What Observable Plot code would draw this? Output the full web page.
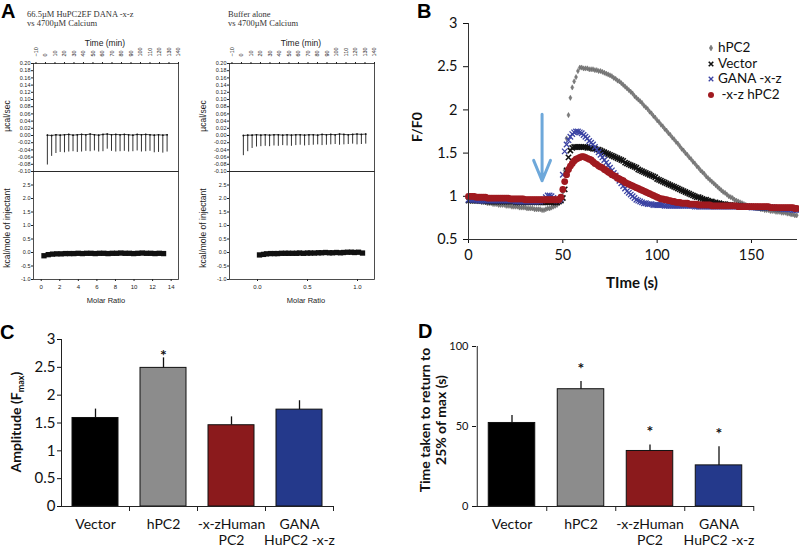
<!DOCTYPE html>
<html><head><meta charset="utf-8">
<script src="https://cdn.jsdelivr.net/npm/d3@7"></script>
<script src="https://cdn.jsdelivr.net/npm/@observablehq/plot@0.6"></script>
<style>
html,body{margin:0;padding:0;background:#fff;}
#fig{position:relative;width:799px;height:547px;overflow:hidden;background:#fff;}
#fig svg{position:absolute;}
.t{position:absolute;white-space:pre;line-height:1;color:#1a1a1a;}
</style></head><body><div id="fig"></div>
<script>
// ---------------- Panel A (ITC) data ----------------
const itcTimeTicks = [-10,0,10,20,30,40,50,60,70,80,90,100,110,120,130,140];
const itcRateTicks = [-0.10,-0.08,-0.06,-0.04,-0.02,0.00,0.02,0.04,0.06,0.08,0.10,0.12,0.14,0.16,0.18,0.20];
const itcHeatTicks = [-1.0,-0.5,0.0,0.5,1.0,1.5,2.0,2.5];
const leftRatioTicks = [0,2,4,6,8,10,12,14];
const rightRatioTicks = [0.0,0.5,1.0];

const leftInjTime = [2.0,6.5,11.0,15.5,20.0,24.5,29.0,33.5,38.0,42.5,47.0,51.5,56.0,60.5,65.0,69.5,74.0,78.5,83.0,87.5,92.0,96.5,101.0,105.5,110.0,114.5,119.0,123.5,128.0];
const leftInjPeak = [-0.082,-0.058,-0.050,-0.047,-0.048,-0.046,-0.045,-0.047,-0.046,-0.044,-0.045,-0.043,-0.046,-0.045,-0.038,-0.044,-0.046,-0.045,-0.044,-0.046,-0.045,-0.043,-0.046,-0.045,-0.044,-0.048,-0.047,-0.049,-0.046];
const leftInjBase = [0.001,0.000,0.002,0.001,0.002,0.003,0.001,0.002,0.003,0.002,0.004,0.002,0.001,0.003,0.004,0.002,0.003,0.002,0.003,0.002,0.001,0.003,0.002,0.003,0.002,0.001,0.002,0.001,0.002];
const leftRatio = [0.30,0.76,1.22,1.68,2.14,2.60,3.06,3.52,3.98,4.44,4.90,5.36,5.82,6.28,6.74,7.20,7.66,8.12,8.58,9.04,9.50,9.96,10.42,10.88,11.34,11.80,12.26,12.72,13.18];
const leftHeat = [-0.12,-0.08,-0.06,-0.05,-0.05,-0.04,-0.04,-0.04,-0.03,-0.04,-0.03,-0.03,-0.04,-0.03,-0.03,-0.04,-0.03,-0.03,-0.02,-0.03,-0.03,-0.04,-0.03,-0.02,-0.03,-0.03,-0.04,-0.03,-0.04];

const rightInjTime = [2.0,6.6,11.2,15.8,20.4,25.0,29.6,34.2,38.8,43.4,48.0,52.6,57.2,61.8,66.4,71.0,75.6,80.2,84.8,89.4,94.0,98.6,103.2,107.8,112.4,117.0,121.6,126.2,130.8];
const rightInjPeak = [-0.056,-0.045,-0.036,-0.032,-0.031,-0.030,-0.031,-0.029,-0.030,-0.028,-0.029,-0.030,-0.028,-0.027,-0.029,-0.028,-0.027,-0.026,-0.028,-0.027,-0.026,-0.025,-0.027,-0.026,-0.025,-0.024,-0.026,-0.025,-0.024];
const rightInjBase = [0.000,0.001,0.001,0.002,0.001,0.002,0.001,0.002,0.002,0.001,0.002,0.001,0.002,0.002,0.001,0.002,0.002,0.001,0.003,0.002,0.003,0.002,0.004,0.003,0.002,0.003,0.004,0.003,0.004];
const rightRatio = [0.02,0.06,0.09,0.13,0.17,0.20,0.24,0.28,0.31,0.35,0.39,0.42,0.46,0.50,0.53,0.57,0.61,0.64,0.68,0.72,0.75,0.79,0.83,0.86,0.90,0.94,0.97,1.01,1.05];
const rightHeat = [-0.09,-0.07,-0.05,-0.04,-0.04,-0.04,-0.03,-0.03,-0.03,-0.03,-0.03,-0.02,-0.03,-0.02,-0.02,-0.02,-0.01,-0.01,0.00,-0.01,-0.01,0.00,-0.01,0.00,0.01,0.01,0.00,0.01,-0.02];

// ---------------- Panel B data (F/F0, one sample per second) ----------------
const bXTicks = [0,50,100,150];
const bYTicks = [0.5,1,1.5,2,2.5,3];
const bHPC2 = [0.97,0.96,0.96,0.95,0.95,0.94,0.94,0.93,0.93,0.93,
 0.92,0.92,0.92,0.91,0.91,0.91,0.90,0.90,0.90,0.90,
 0.89,0.89,0.89,0.88,0.88,0.88,0.88,0.87,0.87,0.87,
 0.87,0.86,0.86,0.86,0.86,0.85,0.85,0.85,0.85,0.84,
 0.84,0.85,0.86,0.86,0.87,0.88,0.89,0.90,0.92,0.96,
 1.05,1.30,1.67,1.94,2.14,2.26,2.33,2.38,2.45,2.49,
 2.49,2.48,2.48,2.48,2.47,2.47,2.47,2.46,2.46,2.45,
 2.45,2.44,2.43,2.42,2.41,2.40,2.39,2.37,2.36,2.34,
 2.33,2.31,2.29,2.27,2.25,2.23,2.21,2.19,2.16,2.14,
 2.12,2.10,2.08,2.05,2.03,2.01,1.98,1.96,1.93,1.91,
 1.88,1.86,1.83,1.81,1.78,1.76,1.73,1.71,1.68,1.66,
 1.63,1.61,1.58,1.55,1.53,1.50,1.48,1.45,1.43,1.40,
 1.38,1.35,1.33,1.30,1.28,1.26,1.23,1.21,1.19,1.17,
 1.15,1.13,1.11,1.09,1.07,1.05,1.04,1.02,1.00,0.99,
 0.98,0.96,0.95,0.94,0.93,0.92,0.91,0.90,0.89,0.89,
 0.88,0.87,0.87,0.86,0.86,0.85,0.85,0.84,0.84,0.84,
 0.83,0.83,0.83,0.82,0.82,0.82,0.81,0.81,0.81,0.80,
 0.80,0.79,0.79,0.78,0.78];
const bVector = [0.95,0.95,0.95,0.95,0.95,0.95,0.95,0.95,0.95,0.95,
 0.94,0.94,0.94,0.94,0.94,0.94,0.94,0.94,0.94,0.94,
 0.94,0.94,0.94,0.94,0.94,0.93,0.93,0.93,0.93,0.93,
 0.93,0.93,0.93,0.93,0.93,0.93,0.93,0.93,0.93,0.93,
 0.93,0.93,0.93,0.93,0.93,0.93,0.93,0.93,0.94,0.95,
 0.98,1.08,1.30,1.45,1.53,1.56,1.57,1.57,1.57,1.57,
 1.57,1.57,1.57,1.56,1.56,1.56,1.55,1.55,1.54,1.54,
 1.53,1.52,1.51,1.50,1.49,1.48,1.47,1.46,1.45,1.44,
 1.43,1.42,1.41,1.39,1.38,1.37,1.36,1.35,1.34,1.33,
 1.31,1.30,1.29,1.28,1.27,1.26,1.25,1.24,1.23,1.22,
 1.20,1.19,1.18,1.17,1.16,1.15,1.14,1.13,1.12,1.11,
 1.10,1.09,1.08,1.07,1.06,1.05,1.04,1.03,1.02,1.01,
 1.00,0.99,0.99,0.98,0.97,0.96,0.96,0.95,0.94,0.94,
 0.93,0.93,0.92,0.92,0.91,0.91,0.91,0.90,0.90,0.90,
 0.89,0.89,0.89,0.89,0.89,0.88,0.88,0.88,0.88,0.88,
 0.88,0.88,0.88,0.87,0.87,0.87,0.87,0.87,0.87,0.87,
 0.87,0.87,0.87,0.86,0.86,0.86,0.86,0.86,0.86,0.86,
 0.86,0.86,0.86,0.86,0.85];
const bGANA = [0.96,0.96,0.96,0.96,0.96,0.95,0.95,0.95,0.95,0.95,
 0.95,0.95,0.95,0.95,0.95,0.95,0.95,0.95,0.95,0.95,
 0.95,0.95,0.95,0.95,0.95,0.94,0.94,0.94,0.94,0.94,
 0.94,0.94,0.94,0.94,0.94,0.94,0.94,0.94,0.94,0.95,
 0.96,0.99,1.01,1.01,1.00,0.98,0.96,0.95,0.95,0.97,
 1.25,1.52,1.60,1.65,1.69,1.72,1.74,1.75,1.75,1.74,
 1.73,1.71,1.69,1.67,1.64,1.62,1.60,1.57,1.54,1.51,
 1.48,1.45,1.42,1.39,1.36,1.33,1.30,1.27,1.24,1.21,
 1.18,1.15,1.12,1.09,1.06,1.04,1.02,1.00,0.98,0.96,
 0.95,0.94,0.93,0.92,0.92,0.91,0.91,0.91,0.90,0.90,
 0.90,0.90,0.90,0.90,0.89,0.89,0.89,0.89,0.89,0.89,
 0.89,0.89,0.89,0.89,0.89,0.89,0.89,0.89,0.89,0.89,
 0.88,0.88,0.88,0.88,0.88,0.88,0.88,0.88,0.88,0.88,
 0.88,0.88,0.88,0.88,0.88,0.88,0.88,0.88,0.88,0.88,
 0.88,0.88,0.88,0.88,0.88,0.88,0.88,0.88,0.88,0.88,
 0.87,0.87,0.87,0.87,0.87,0.87,0.87,0.87,0.87,0.87,
 0.87,0.87,0.86,0.86,0.86,0.86,0.86,0.85,0.85,0.85,
 0.85,0.85,0.84,0.84,0.84];
const bXZ = [1.00,1.00,1.00,1.00,0.99,0.99,0.99,0.99,0.99,0.99,
 0.98,0.98,0.98,0.98,0.98,0.98,0.98,0.98,0.98,0.98,
 0.98,0.98,0.97,0.97,0.97,0.97,0.97,0.97,0.97,0.97,
 0.96,0.96,0.96,0.96,0.96,0.96,0.96,0.96,0.96,0.96,
 0.96,0.96,0.96,0.96,0.96,0.96,0.96,0.96,0.96,0.99,
 1.08,1.17,1.25,1.31,1.35,1.38,1.41,1.43,1.44,1.45,
 1.46,1.46,1.45,1.44,1.43,1.42,1.40,1.38,1.37,1.35,
 1.34,1.33,1.31,1.30,1.28,1.27,1.25,1.24,1.23,1.21,
 1.20,1.19,1.18,1.16,1.15,1.14,1.13,1.12,1.11,1.10,
 1.09,1.08,1.07,1.06,1.05,1.04,1.03,1.02,1.01,1.00,
 0.99,0.98,0.97,0.97,0.96,0.96,0.95,0.95,0.94,0.94,
 0.93,0.93,0.93,0.92,0.92,0.92,0.92,0.91,0.91,0.91,
 0.91,0.91,0.90,0.90,0.90,0.90,0.90,0.90,0.90,0.89,
 0.89,0.89,0.89,0.89,0.89,0.89,0.89,0.89,0.89,0.89,
 0.89,0.89,0.89,0.88,0.88,0.88,0.88,0.88,0.88,0.88,
 0.88,0.88,0.88,0.88,0.88,0.88,0.88,0.88,0.88,0.88,
 0.87,0.87,0.87,0.87,0.87,0.87,0.87,0.87,0.87,0.87,
 0.87,0.87,0.87,0.86,0.86];
const bArrowTime = [39];
const bArrowFrom = [1.95];
const bArrowTo = [1.18];
const bSeriesNames = ["hPC2","Vector","GANA -x-z"," -x-z hPC2"];

// ---------------- Panels C & D data ----------------
const groups = ["Vector","hPC2","-x-zHuman PC2","GANA HuPC2 -x-z"];
const groupLabels = ["Vector","hPC2","-x-zHuman\nPC2","GANA\nHuPC2 -x-z"];
const barColors = ["#000000","#8c8c8c","#8b1a1c","#24398b"];
const ampMean = [1.59,2.49,1.46,1.74];
const ampErr = [0.16,0.18,0.15,0.16];
const ampSig = [false,true,false,false];
const ampTicks = [0,0.5,1,1.5,2,2.5,3];
const recMean = [52.2,73.3,34.7,25.7];
const recErr = [4.6,4.8,3.7,11.7];
const recSig = [false,true,true,true];
const recTicks = [0,50,100];

// ---------------- helpers ----------------
const fig = document.getElementById("fig");
function place(svg, left, top){ svg.style.left = left+"px"; svg.style.top = top+"px"; fig.appendChild(svg); }
function txt(html, x, y, style, opts={}){
  const d = document.createElement("div");
  d.className = "t";
  d.innerHTML = html;
  const tr = opts.left ? "translate(0,-50%)" : "translate(-50%,-50%)";
  d.style.left = x+"px"; d.style.top = y+"px";
  d.style.transform = tr + (opts.rotate ? " rotate(-90deg)" : "");
  Object.assign(d.style, style);
  fig.appendChild(d);
  return d;
}
const sans = "'Liberation Sans', Arial, sans-serif";
const serif = "'Liberation Serif', 'Times New Roman', serif";
const cal = "Lato, 'Open Sans', sans-serif";

// ---------------- Panel A ----------------
function itcTop(times, peaks, base, domain){
  const data = times.map((t,i)=>({t, peak: peaks[i], base: base[i]}));
  return Plot.plot({
    width:190, height:171, marginLeft:33, marginRight:12, marginTop:63, marginBottom:0,
    style:{fontFamily:sans, color:"#222", background:"transparent", overflow:"visible"},
    x:{domain}, y:{domain:[-0.10,0.20]},
    marks:[
      Plot.axisX({anchor:"top", ticks:itcTimeTicks, tickRotate:-90, tickSize:2, tickPadding:5, fontSize:5.5, label:null}),
      Plot.axisY({ticks:itcRateTicks, tickFormat:d=>d.toFixed(2), tickSize:2, tickPadding:1, fontSize:5.5, label:null}),
      Plot.line(data, {x:"t", y:"base", stroke:"#333", strokeWidth:0.9}),
      Plot.ruleX(data, {x:"t", y1:"base", y2:"peak", stroke:"#333", strokeWidth:1}),
      Plot.dot(data, {x:"t", y:"base", r:0.9, fill:"#111"}),
      Plot.frame({stroke:"#222", strokeWidth:0.8})
    ]
  });
}
function itcBottom(ratio, heat, domain, ticks, fmt){
  const data = ratio.map((r,i)=>({r, h: heat[i]}));
  return Plot.plot({
    width:190, height:130, marginLeft:33, marginRight:12, marginTop:0, marginBottom:22,
    style:{fontFamily:sans, color:"#222", background:"transparent", overflow:"visible"},
    x:{domain}, y:{domain:[-1.0,3.0]},
    marks:[
      Plot.axisX({ticks, tickFormat:fmt, tickSize:2, tickPadding:3, fontSize:6, label:null}),
      Plot.axisY({ticks:itcHeatTicks, tickFormat:d=>d.toFixed(1), tickSize:2, tickPadding:1, fontSize:5.5, label:null}),
      Plot.dot(data, {x:"r", y:"h", symbol:"square", r:3, fill:"#111"}),
      Plot.frame({stroke:"#222", strokeWidth:0.8})
    ]
  });
}
place(itcTop(leftInjTime, leftInjPeak, leftInjBase, [-12.6,140]), 0, 0);
place(itcBottom(leftRatio, leftHeat, [-0.83,14.79], leftRatioTicks, d=>String(d)), 0, 171);
place(itcTop(rightInjTime, rightInjPeak, rightInjBase, [-12.6,140]), 196, 0);
place(itcBottom(rightRatio, rightHeat, [-0.28,1.17], rightRatioTicks, d=>d.toFixed(1)), 196, 171);

const smallSans = {fontFamily:sans, fontSize:"8.5px", color:"#222"};
const titleSerif = {fontFamily:serif, fontSize:"8.5px", color:"#333"};
txt("66.5µM HuPC2EF DANA -x-z", 27, 13.5, titleSerif, {left:true});
txt("vs 4700µM Calcium", 27, 22.5, titleSerif, {left:true});
txt("Buffer alone", 228, 13.5, titleSerif, {left:true});
txt("vs 4700µM Calcium", 228, 22.5, titleSerif, {left:true});
txt("Time (min)", 105, 42.5, smallSans);
txt("Time (min)", 301, 42.5, smallSans);
txt("µcal/sec", 7, 116, smallSans, {rotate:true});
txt("µcal/sec", 203, 116, smallSans, {rotate:true});
txt("kcal/mole of injectant", 7, 228, smallSans, {rotate:true});
txt("kcal/mole of injectant", 203, 228, smallSans, {rotate:true});
txt("Molar Ratio", 106, 301, {fontFamily:sans, fontSize:"7.5px", color:"#222"});
txt("Molar Ratio", 306, 301, {fontFamily:sans, fontSize:"7.5px", color:"#222"});

// ---------------- Panel B ----------------
const bStyles = [
  {values:bHPC2, symbol:"diamond", r:1.6, fill:"#7d7d7d", stroke:"#555", strokeWidth:0.4},
  {values:bVector, symbol:"times", r:2.5, fill:"none", stroke:"#111", strokeWidth:1.6},
  {values:bGANA, symbol:"times", r:2.6, fill:"none", stroke:"#3b43a3", strokeWidth:1.3},
  {values:bXZ, symbol:"circle", r:3.4, fill:"#a01a20", stroke:"none", strokeWidth:0}
];
const bDots = bStyles.map(s => {
  const data = s.values.map((v,i)=>({t:i, v}));
  return Plot.dot(data, {x:"t", y:"v", symbol:s.symbol, r:s.r, fill:s.fill, stroke:s.stroke, strokeWidth:s.strokeWidth});
});
const arrowData = bArrowTime.map((t,i)=>({t, from:bArrowFrom[i], to:bArrowTo[i]}));
place(Plot.plot({
  width:399, height:300, marginLeft:68, marginRight:2, marginTop:23, marginBottom:61,
  style:{fontFamily:cal, color:"#111", background:"transparent", overflow:"visible"},
  x:{domain:[0,174.4]}, y:{domain:[0.5,3]},
  marks:[
    Plot.axisX({ticks:bXTicks, tickSize:4, tickPadding:6, fontSize:14.5, label:null}),
    Plot.axisY({ticks:bYTicks, tickFormat:d=>String(d), tickSize:5, tickPadding:6, fontSize:14.5, label:null}),
    ...bDots,
    Plot.ruleX([0], {stroke:"#333"}),
    Plot.ruleY([0.5], {stroke:"#333"}),
    Plot.arrow(arrowData, {x1:"t", x2:"t", y1:"from", y2:"to", stroke:"#6ea8da", strokeWidth:3, headLength:11, headAngle:45})
  ]
}), 400, 0);
txt("F/F0", 417, 127, {fontFamily:cal, fontSize:"14px", fontWeight:"bold", color:"#111"}, {rotate:true});
txt("TIme (s)", 632, 282, {fontFamily:cal, fontSize:"15px", fontWeight:"bold", color:"#111"});
// legend
const legY = [48, 63.5, 79, 94.5];
const legSize = [1.8, 2.2, 2.2, 3.0];
bStyles.forEach((s,i)=>{
  const type = {diamond:d3.symbolDiamond, times:d3.symbolTimes, circle:d3.symbolCircle}[s.symbol];
  const path = d3.symbol(type, Math.PI*legSize[i]*legSize[i])();
  const svg = document.createElementNS("http://www.w3.org/2000/svg","svg");
  svg.setAttribute("width",12); svg.setAttribute("height",12);
  svg.innerHTML = `<path transform="translate(6,6)" d="${path}" fill="${s.fill}" stroke="${s.stroke}" stroke-width="${s.strokeWidth}"/>`;
  svg.style.left = (711-6)+"px"; svg.style.top = (legY[i]-6)+"px";
  fig.appendChild(svg);
  txt(bSeriesNames[i], 718, legY[i], {fontFamily:cal, fontSize:"13.5px", color:"#111"}, {left:true});
});

// ---------------- Panels C & D ----------------
function barPanel(mean, err, sig, ticks, o){
  const data = groups.map((g,i)=>({g, v:mean[i], e:err[i], sig:sig[i]}));
  const bw = (o.width - o.marginLeft - o.marginRight)/groups.length;
  return Plot.plot({
    width:o.width, height:247, marginLeft:o.marginLeft, marginRight:o.marginRight, marginTop:o.marginTop, marginBottom:41,
    style:{fontFamily:cal, color:"#111", background:"transparent", overflow:"visible"},
    x:{domain:groups, padding:0}, y:{domain:o.yDomain},
    color:{domain:groups, range:barColors},
    marks:[
      Plot.axisY({ticks, tickFormat:d=>String(d), tickSize:4, tickPadding:o.tickPad, fontSize:o.tickFont, label:null}),
      Plot.axisX({tickSize:0, tickPadding:11, tickFormat:d=>groupLabels[groups.indexOf(d)], fontSize:14, lineHeight:1.15, label:null}),
      Plot.barY(data, {x:"g", y:"v", fill:"g", stroke:"#111", strokeWidth:1, insetLeft:o.inset, insetRight:o.inset}),
      Plot.ruleX(data, {x:"g", y1:"v", y2:d=>d.v+d.e, stroke:"#111", strokeWidth:1.3}),
      Plot.ruleY(data, {x:"g", y:d=>d.v+d.e, insetLeft:bw/2-3, insetRight:bw/2-3, stroke:"#111", strokeWidth:1.3}),
      Plot.text(data.filter(d=>d.sig), {x:"g", y:d=>d.v+d.e, text:()=>"*", dy:o.starDy, fontSize:16, fontWeight:"bold", fill:"#111"}),
      Plot.ruleY([0], {stroke:"#222"}),
      Plot.ruleX([groups[0]], {dx:-bw/2, stroke:"#222"}),
      Plot.ruleX(groups, {dx:bw/2, y1:0, y2:0, insetBottom:-5, stroke:"#222"})
    ]
  });
}
place(barPanel(ampMean, ampErr, ampSig, ampTicks, {width:400, marginLeft:61, marginRight:67, marginTop:39, yDomain:[0,3], tickPad:2, tickFont:15, inset:11, starDy:-2}), 0, 300);
place(barPanel(recMean, recErr, recSig, recTicks, {width:399, marginLeft:76, marginRight:45, marginTop:46, yDomain:[0,100], tickPad:4, tickFont:11, inset:11.25, starDy:-13}), 400, 300);
txt("Amplitude (F<sub style='font-size:9px'>max</sub>)", 17, 422, {fontFamily:cal, fontSize:"14px", fontWeight:"bold", color:"#111"}, {rotate:true});
txt("Time taken to return to<br>25% of max (s)", 433, 420, {fontFamily:cal, fontSize:"14px", fontWeight:"bold", color:"#111", textAlign:"center", lineHeight:"16px"}, {rotate:true});

// panel letters
const letter = {fontFamily:sans, fontSize:"20px", fontWeight:"bold", color:"#000"};
txt("A", 1, 11, letter, {left:true});
txt("B", 417, 11, letter, {left:true});
txt("C", 0, 332, letter, {left:true});
txt("D", 418, 331, letter, {left:true});
</script></body></html>
